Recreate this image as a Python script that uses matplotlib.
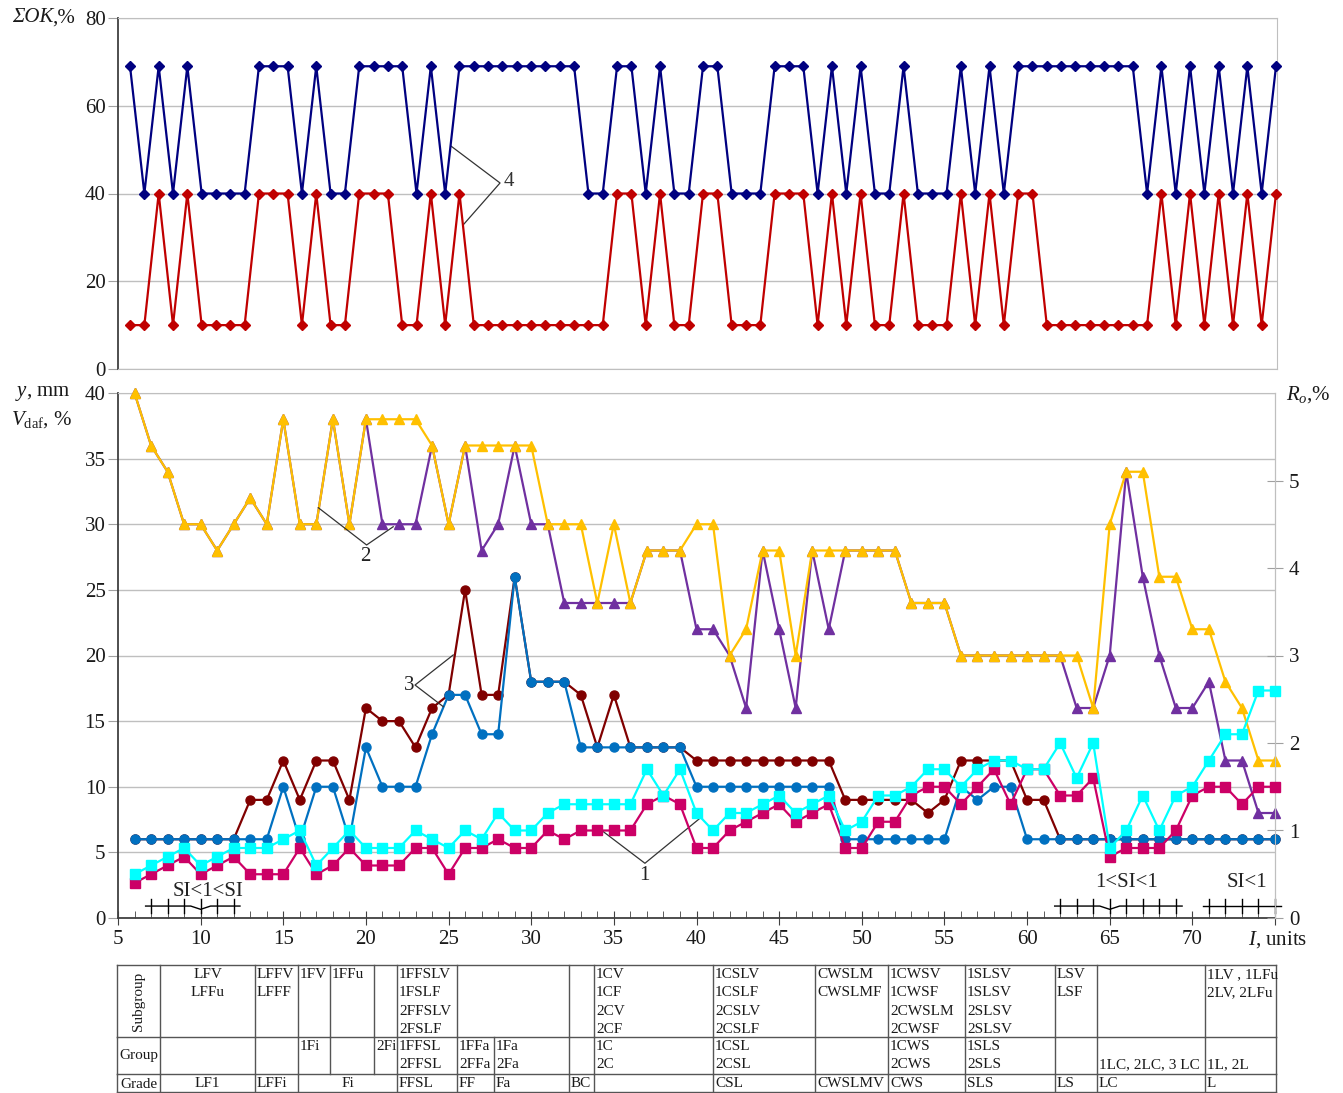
import matplotlib.pyplot as plt
import numpy as np

plt.rcParams['font.family'] = ['Liberation Serif', 'DejaVu Serif']
plt.rcParams['mathtext.fontset'] = 'custom'
plt.rcParams['mathtext.rm'] = 'Liberation Serif'
plt.rcParams['mathtext.it'] = 'Liberation Serif:italic'
plt.rcParams['font.size'] = 15

W, H = 1343, 1093

# ---- top panel: sum OK, %
ok_upper = [69, 40, 69, 40, 69, 40, 40, 40, 40, 69, 69, 69, 40, 69, 40, 40, 69, 69, 69, 69,
            40, 69, 40, 69, 69, 69, 69, 69, 69, 69, 69, 69, 40, 40, 69, 69, 40, 69, 40, 40,
            69, 69, 40, 40, 40, 69, 69, 69, 40, 69, 40, 69, 40, 40, 69, 40, 40, 40, 69, 40,
            69, 40, 69, 69, 69, 69, 69, 69, 69, 69, 69, 40, 69, 40, 69, 40, 69, 40, 69, 40, 69]
ok_lower = [10, 10, 40, 10, 40, 10, 10, 10, 10, 40, 40, 40, 10, 40, 10, 10, 40, 40, 40, 10,
            10, 40, 10, 40, 10, 10, 10, 10, 10, 10, 10, 10, 10, 10, 40, 40, 10, 40, 10, 10,
            40, 40, 10, 10, 10, 40, 40, 40, 10, 40, 10, 40, 10, 10, 40, 10, 10, 10, 40, 10,
            40, 10, 40, 40, 10, 10, 10, 10, 10, 10, 10, 10, 40, 10, 40, 10, 40, 10, 40, 10, 40]
ok_idx = np.arange(1, len(ok_upper) + 1)

# ---- bottom panel, I = 6..75
I_units = np.arange(6, 76)
vdaf_a = [40, 36, 34, 30, 30, 28, 30, 32, 30, 38, 30, 30, 38, 30, 38, 38, 38, 38, 36, 30,
          36, 36, 36, 36, 36, 30, 30, 30, 24, 30, 24, 28, 28, 28, 30, 30, 20, 22, 28, 28,
          20, 28, 28, 28, 28, 28, 28, 24, 24, 24, 20, 20, 20, 20, 20, 20, 20, 20, 16, 30,
          34, 34, 26, 26, 22, 22, 18, 16, 12, 12]
vdaf_b = [40, 36, 34, 30, 30, 28, 30, 32, 30, 38, 30, 30, 38, 30, 38, 30, 30, 30, 36, 30,
          36, 28, 30, 36, 30, 30, 24, 24, 24, 24, 24, 28, 28, 28, 22, 22, 20, 16, 28, 22,
          16, 28, 22, 28, 28, 28, 28, 24, 24, 24, 20, 20, 20, 20, 20, 20, 20, 16, 16, 20,
          34, 26, 20, 16, 16, 18, 12, 12, 8, 8]
y_a = [6, 6, 6, 6, 6, 6, 6, 9, 9, 12, 9, 12, 12, 9, 16, 15, 15, 13, 16, 17,
       25, 17, 17, 26, 18, 18, 18, 17, 13, 17, 13, 13, 13, 13, 12, 12, 12, 12, 12, 12,
       12, 12, 12, 9, 9, 9, 9, 9, 8, 9, 12, 12, 12, 12, 9, 9, 6, 6, 6, 6,
       6, 6, 6, 6, 6, 6, 6, 6, 6, 6]
y_b = [6, 6, 6, 6, 6, 6, 6, 6, 6, 10, 6, 10, 10, 6, 13, 10, 10, 10, 14, 17,
       17, 14, 14, 26, 18, 18, 18, 13, 13, 13, 13, 13, 13, 13, 10, 10, 10, 10, 10, 10,
       10, 10, 10, 6, 6, 6, 6, 6, 6, 6, 10, 9, 10, 10, 6, 6, 6, 6, 6, 6,
       6, 6, 6, 6, 6, 6, 6, 6, 6, 6]
ro_a = [0.5, 0.6, 0.7, 0.8, 0.6, 0.7, 0.8, 0.8, 0.8, 0.9, 1.0, 0.6, 0.8, 1.0, 0.8, 0.8, 0.8, 1.0, 0.9, 0.8,
        1.0, 0.9, 1.2, 1.0, 1.0, 1.2, 1.3, 1.3, 1.3, 1.3, 1.3, 1.7, 1.4, 1.7, 1.2, 1.0, 1.2, 1.2, 1.3, 1.4,
        1.2, 1.3, 1.4, 1.0, 1.1, 1.4, 1.4, 1.5, 1.7, 1.7, 1.5, 1.7, 1.8, 1.8, 1.7, 1.7, 2.0, 1.6, 2.0, 0.8,
        1.0, 1.4, 1.0, 1.4, 1.5, 1.8, 2.1, 2.1, 2.6, 2.6]
ro_b = [0.4, 0.5, 0.6, 0.7, 0.5, 0.6, 0.7, 0.5, 0.5, 0.5, 0.8, 0.5, 0.6, 0.8, 0.6, 0.6, 0.6, 0.8, 0.8, 0.5,
        0.8, 0.8, 0.9, 0.8, 0.8, 1.0, 0.9, 1.0, 1.0, 1.0, 1.0, 1.3, 1.4, 1.3, 0.8, 0.8, 1.0, 1.1, 1.2, 1.3,
        1.1, 1.2, 1.3, 0.8, 0.8, 1.1, 1.1, 1.4, 1.5, 1.5, 1.3, 1.5, 1.7, 1.3, 1.7, 1.7, 1.4, 1.4, 1.6, 0.7,
        0.8, 0.8, 0.8, 1.0, 1.4, 1.5, 1.5, 1.3, 1.5, 1.5]

si_labels = ["SI<1<SI", "1<SI<1", "SI<1"]
si_marks = [[7, 8, 9, 10, 11, 12], [62, 63, 64, 65, 66, 67, 68, 69], [71, 72, 73, 74, 75]]
si_dip = [10, 65, None]

# ---- table
sub_cells = ["LFV\nLFFu", "LFFV\nLFFF", "1FV", "1FFu", "", "1FFSLV\n1FSLF\n2FFSLV\n2FSLF",
             "", "", "1CV\n1CF\n2CV\n2CF", "1CSLV\n1CSLF\n2CSLV\n2CSLF", "CWSLM\nCWSLMF",
             "1CWSV\n1CWSF\n2CWSLM\n2CWSF", "1SLSV\n1SLSV\n2SLSV\n2SLSV", "LSV\nLSF", "",
             "1LV , 1LFu\n2LV, 2LFu"]
sub_span = [1, 1, 1, 1, 1, 1, 2, 1, 1, 1, 1, 1, 1, 1, 1, 1]
grp_cells = ["", "", "1Fi", "", "2Fi", "1FFSL\n2FFSL", "1FFa\n2FFa", "1Fa\n2Fa", "", "1C\n2C",
             "1CSL\n2CSL", "", "1CWS\n2CWS", "1SLS\n2SLS", "", "\n1LC, 2LC, 3 LC", "\n1L, 2L"]
grp_span = [1] * 17
grade_cells = ["LF1", "LFFi", "Fi", "FFSL", "FF", "Fa", "BC", "", "CSL", "CWSLMV", "CWS",
               "SLS", "LS", "LC", "L"]
grade_span = [1, 1, 3, 1, 1, 1, 1, 1, 1, 1, 1, 1, 1, 1, 1]
row_names = ["Subgroup", "Group", "Grade"]

col_px = [117, 160, 255, 298, 330, 374, 397, 457, 494, 569, 594, 713, 815, 888, 965,
          1055, 1097, 1205, 1276]
row_px = [965, 1037, 1074, 1092]

fig = plt.figure(figsize=(W / 100, H / 100), dpi=100)

dark = '#404040'
light = '#BFBFBF'
txt = '#1a1a1a'

# top panel
ax1 = fig.add_axes([118 / W, 1 - 369 / H, 1159 / W, 351 / H])
ax1.plot(ok_idx, ok_upper, color='#000080', marker='D', ms=5, lw=1.6, clip_on=False, zorder=3)
ax1.plot(ok_idx, ok_lower, color='#C00000', marker='D', ms=5, lw=1.6, clip_on=False, zorder=3)
ax1.set_xlim(0.16, 81.07)
ax1.set_ylim(0, 80)
ax1.set_yticks(range(0, 81, 20))
ax1.set_xticks([])
ax1.grid(axis='y', color=light, lw=1)
for s in ['top', 'right', 'bottom']:
    ax1.spines[s].set_color(light)
ax1.spines['left'].set_color(dark)
ax1.spines['left'].set_linewidth(1.3)
ax1.tick_params(axis='y', direction='out', length=7, color='#A0A0A0', pad=2,
                labelsize=15, labelcolor=txt)
ax1.plot([23.41, 26.83, 24.3], [50.8, 42.4, 33.0], color='#333333', lw=0.9)
ax1.text(27.05, 42.8, "4", ha='left', va='center', fontsize=15, color='#333333')

# bottom panel
ax2 = fig.add_axes([118 / W, 1 - 918 / H, 1157 / W, 525 / H])
ax2.plot(I_units, vdaf_b, color='#7030A0', marker='^', ms=7, lw=1.6, clip_on=False, zorder=3)
ax2.plot(I_units, vdaf_a, color='#FFC000', marker='^', ms=7, lw=1.6, clip_on=False, zorder=3)
ax2.plot(I_units, y_a, color='#800000', marker='o', ms=6.5, lw=1.6, clip_on=False, zorder=3)
ax2.plot(I_units, y_b, color='#0070C0', marker='o', ms=6.5, lw=1.6, clip_on=False, zorder=3)
ax2.set_xlim(5, 75)
ax2.set_ylim(0, 40)
xt = list(range(5, 76, 5))
ax2.set_xticks(xt)
ax2.set_xticklabels([str(v) if v < 75 else '' for v in xt])
ax2.set_xticks(range(5, 76), minor=True)
ax2.set_yticks(range(0, 41, 5))
ax2.grid(axis='y', color=light, lw=1)
ax2.spines['left'].set_color(dark)
ax2.spines['left'].set_linewidth(1.3)
ax2.spines['bottom'].set_color(dark)
ax2.spines['bottom'].set_linewidth(1.3)
ax2.spines['top'].set_color(light)
ax2.spines['right'].set_color(light)
ax2.tick_params(axis='x', which='major', direction='inout', length=10, color=dark, pad=4,
                labelsize=15, labelcolor=txt)
ax2.tick_params(axis='x', which='minor', direction='in', length=5, color=dark)
ax2.tick_params(axis='y', direction='out', length=7, color='#A0A0A0', pad=2,
                labelsize=15, labelcolor=txt)

ax3 = ax2.twinx()
ax3.plot(I_units, ro_b, color='#CC0066', marker='s', ms=6.5, lw=1.6, clip_on=False, zorder=3)
ax3.plot(I_units, ro_a, color='#00FFFF', marker='s', ms=6.5, lw=1.6, clip_on=False, zorder=3)
ax3.set_ylim(0, 6)
ax3.set_yticks(range(0, 6))
for s in ['left', 'bottom', 'top']:
    ax3.spines[s].set_visible(False)
ax3.spines['right'].set_color(light)
ax3.tick_params(axis='y', direction='inout', length=12, color='#A0A0A0', pad=4,
                labelsize=15, labelcolor=txt)

# curve labels
ax2.plot([17.12, 20.04, 21.65], [31.26, 28.42, 29.81], color='#333333', lw=0.9, zorder=4)
ax2.text(19.98, 27.55, "2", ha='center', va='center', fontsize=15, color='#222222')
ax2.plot([25.28, 22.97, 24.68], [20.04, 17.75, 16.1], color='#333333', lw=0.9, zorder=4)
ax2.text(22.95, 17.75, "3", ha='right', va='center', fontsize=15, color='#222222')
ax2.plot([34.36, 36.88, 40.21], [6.58, 4.17, 7.6], color='#333333', lw=0.9, zorder=4)
ax2.text(36.84, 3.2, "1", ha='center', va='center', fontsize=15, color='#222222')

# SI marks
y0 = 0.91
for marks, dip in zip(si_marks, si_dip):
    xs0, xs1 = marks[0] - 0.33, marks[-1] + 0.38
    if dip is None:
        ax2.plot([xs0, xs1], [y0, y0], color='black', lw=1, clip_on=False, zorder=4)
    else:
        ax2.plot([xs0, dip - 0.6, dip, dip + 0.6, xs1], [y0, y0, y0 - 0.25, y0, y0],
                 color='black', lw=1, clip_on=False, zorder=4)
    for m in marks:
        ax2.plot([m, m], [0.38, 1.45], color='black', lw=1, clip_on=False, zorder=4)
ax2.text(10.45, 2.0, si_labels[0], ha='center', va='center', fontsize=15, color='#222222')
ax2.text(66.0, 2.74, si_labels[1], ha='center', va='center', fontsize=15, color='#222222')
ax2.text(73.3, 2.67, si_labels[2], ha='center', va='center', fontsize=15, color='#222222')

# axis titles
fig.text(53 / W, 1 - 18 / H, "ΣOK", ha='right', va='center', fontsize=15, color=txt,
         fontstyle='italic')
fig.text(75 / W, 1 - 18 / H, ",%", ha='right', va='center', fontsize=15, color=txt)
fig.text(71 / W, 1 - 393 / H, r"$\mathit{y}$, mm", ha='right', va='center', fontsize=15, color=txt)
fig.text(72 / W, 1 - 420 / H, r"$\mathit{V}_{\mathrm{daf}}$, %", ha='right', va='center',
         fontsize=15, color=txt)
fig.text(1286 / W, 1 - 395 / H, r"$\mathit{R}_{\mathit{o}}$,%", ha='left', va='center',
         fontsize=15, color=txt)
fig.text(1307 / W, 1 - 940 / H, r"$\mathit{I}$, units", ha='right', va='center',
         fontsize=15, color=txt)

# table
tab = fig.add_axes([0, 0, 1, 1], zorder=-1)
tab.set_xlim(0, W)
tab.set_ylim(H, 0)
tab.axis('off')
lc = '#555555'
for yy in row_px:
    tab.plot([col_px[0], col_px[-1]], [yy, yy], color=lc, lw=1)
for r, (cells, spans) in enumerate([(sub_cells, sub_span), (grp_cells, grp_span),
                                    (grade_cells, grade_span)]):
    top, bot = row_px[r], row_px[r + 1]
    tab.plot([col_px[0]] * 2, [top, bot], color=lc, lw=1)
    tab.plot([col_px[1]] * 2, [top, bot], color=lc, lw=1)
    c = 1
    for text, sp in zip(cells, spans):
        x0, x1 = col_px[c], col_px[c + sp]
        tab.plot([x1, x1], [top, bot], color=lc, lw=1)
        centered = (c == 1) or sp > 1
        for k, line in enumerate(text.split("\n")):
            yy = top + 9.5 + k * 18.3
            if centered:
                tab.text((x0 + x1) / 2, yy, line, ha='center', va='center', fontsize=11, color=txt)
            else:
                tab.text(x0 + 2, yy, line, ha='left', va='center', fontsize=11, color=txt)
        c += sp
tab.text(139, (row_px[0] + row_px[1]) / 2, row_names[0], rotation=90, ha='center', va='center',
         fontsize=11, color=txt)
tab.text(139, (row_px[1] + row_px[2]) / 2, row_names[1], ha='center', va='center', fontsize=11,
         color=txt)
tab.text(139, (row_px[2] + row_px[3]) / 2 + 1, row_names[2], ha='center', va='center', fontsize=11,
         color=txt)

fig.savefig('out.png', dpi=100)
